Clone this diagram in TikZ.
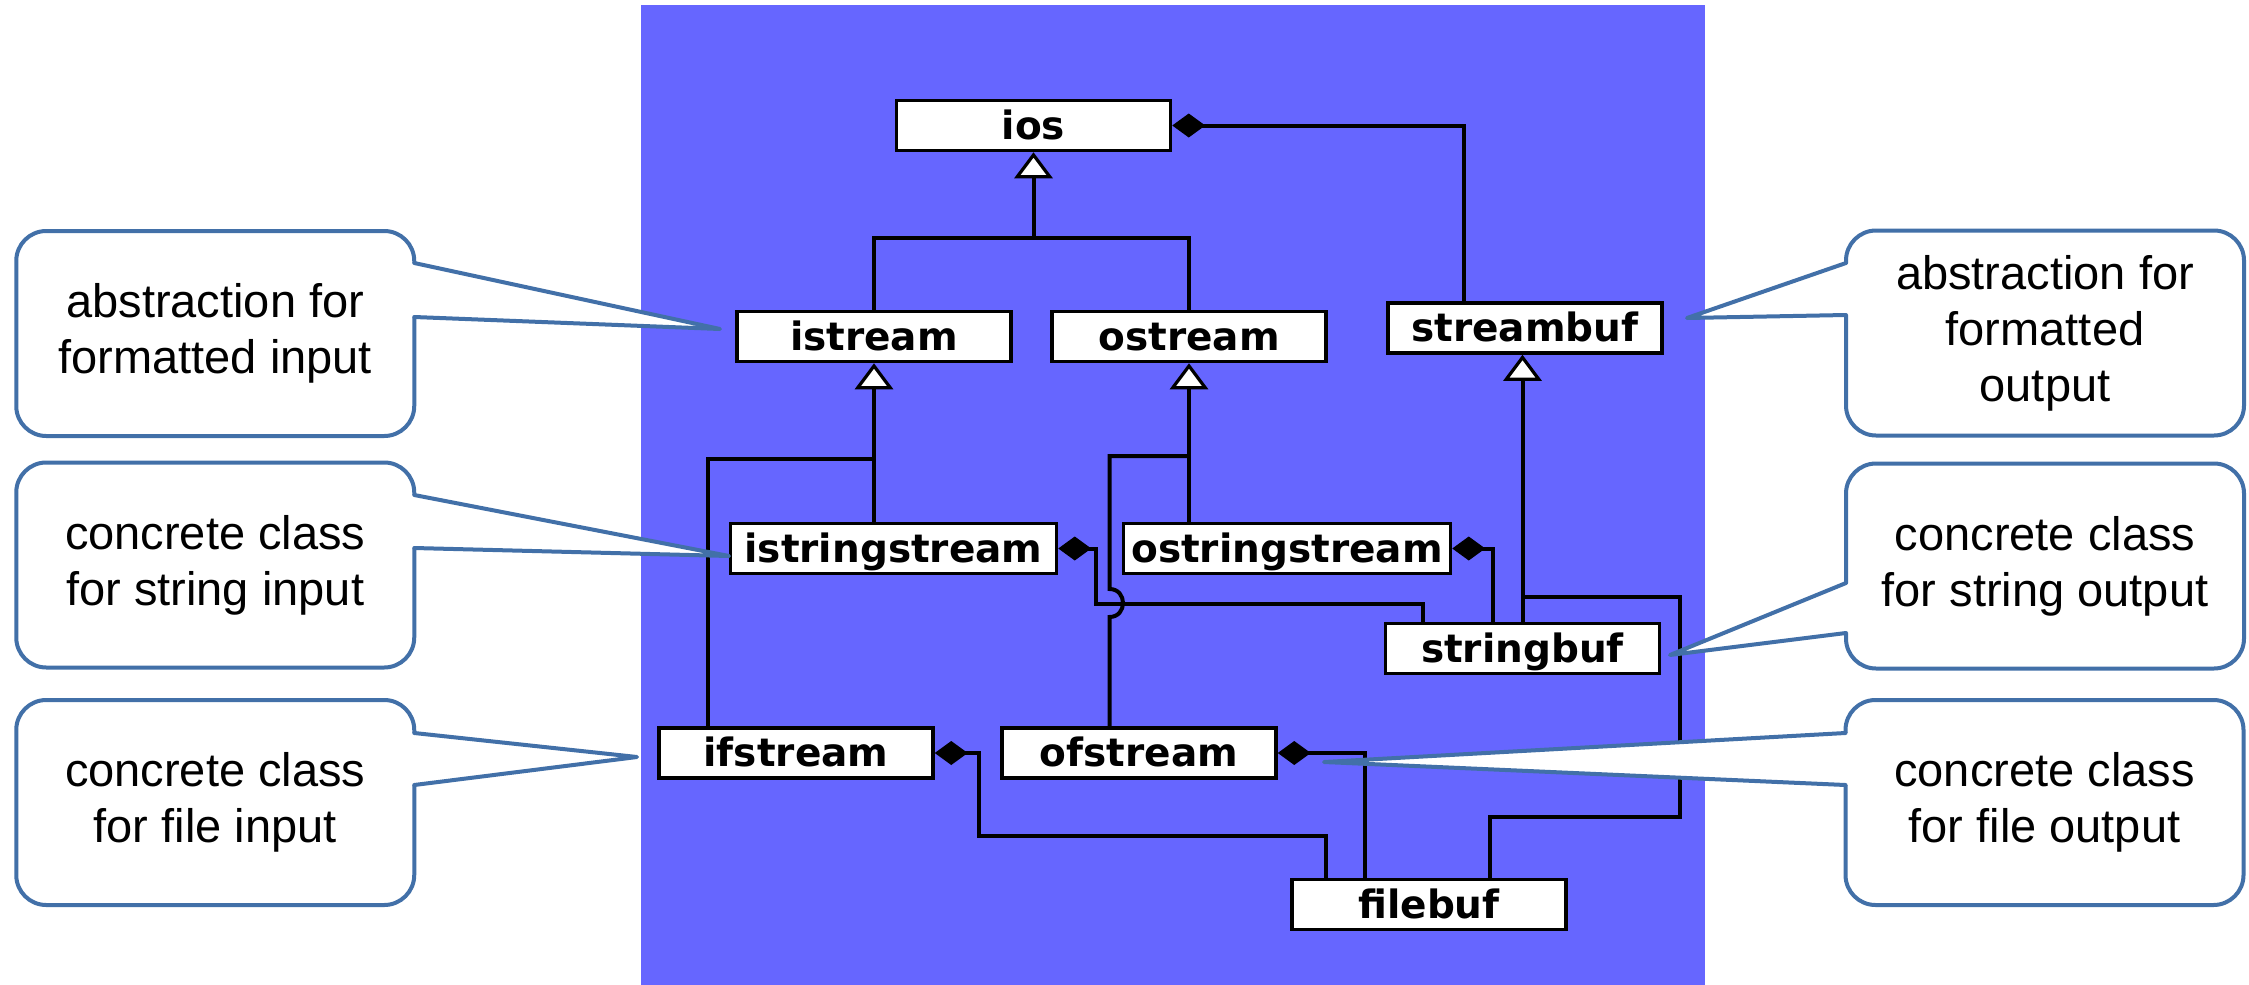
\documentclass[tikz,border=0pt]{standalone}
\usepackage{fontspec}
\setmainfont{Liberation Sans}
\newfontfamily\umlfont{DejaVu Sans}
\usetikzlibrary{arrows.meta}
\definecolor{panel}{RGB}{102,102,255}
\definecolor{callblue}{RGB}{66,112,168}
\begin{document}
\begin{tikzpicture}[x=1pt,y=-1pt,
  uml/.style={draw=black, line width=3.5pt, fill=white, inner sep=0pt,
    minimum height=50pt, minimum width=274pt,
    font=\umlfont\bfseries\fontsize{39}{42}\selectfont,
    text height=30pt, text depth=3pt},
  conn/.style={draw=black, line width=4pt},
  gen/.style={conn, -{Triangle[width=38pt,length=26pt,fill=white,line width=3.2pt]}},
  comp/.style={conn, -{Diamond[width=24pt,length=33pt]}},
  callout/.style={draw=callblue, line width=4pt, fill=white, rounded corners=30pt,
    align=center, inner sep=0pt, minimum width=398pt, minimum height=205pt,
    font=\fontsize{47}{56}\selectfont},
  ptr/.style={draw=callblue, line width=4pt, line join=round, line cap=round}]
\useasboundingbox (0,0) rectangle (2249,985);
\fill[white] (0,0) rectangle (2249,985);
\fill[panel] (641,5) rectangle (1705,985);

% class boxes
\node[uml] (ios) at (1033.5,125.5) {ios};
\node[uml] (istream) at (874,336.5) {istream};
\node[uml] (ostream) at (1189,336.5) {ostream};
\node[uml] (streambuf) at (1525,328) {streambuf};
\node[uml, minimum width=326pt] (istringstream) at (893.5,548.5) {istringstream};
\node[uml, minimum width=327pt] (ostringstream) at (1287,548.5) {ostringstream};
\node[uml] (stringbuf) at (1522.5,648.5) {stringbuf};
\node[uml] (ifstream) at (796,753) {ifstream};
\node[uml] (ofstream) at (1139,753) {ofstream};
\node[uml] (filebuf) at (1429,904.5) {filebuf};

% bend coordinates
\coordinate (g1) at (1033.5,238);
\coordinate (b1) at (708,459);
\coordinate (c1) at (1109.5,456);
\coordinate (a1) at (1464,126);
\coordinate (d1) at (1423,604);
\coordinate (d2) at (1096,604);
\coordinate (e1) at (1493,548.5);
\coordinate (f1) at (1522.5,597);
\coordinate (f2) at (1680,817);
\coordinate (f3) at (1490,817);
\coordinate (h1) at (979,836);
\coordinate (h2) at (1326,836);
\coordinate (k1) at (1365,753);

% generalizations
\draw[conn] (istream.north) |- (g1) -| (ostream.north);
\draw[gen] (g1) -- (ios.south);
\draw[gen] (istream.south |- istringstream.north) -- (istream.south);
\draw[conn] (b1 |- ifstream.north) -- (b1) -- (b1 -| istream.south);
\draw[gen] (ostream.south |- ostringstream.north) -- (ostream.south);
\draw[conn] (c1 -| ostream.south) -- (c1) -- (1109.5,589)
  .. controls (1127.5,589) and (1127.5,617) .. (1109.5,617) -- (c1 |- ofstream.north);
\draw[gen] (stringbuf.north) -- (stringbuf.north |- streambuf.south);
\draw[conn] (f1) -| (f2) -- (f3) -- (f3 |- filebuf.north);

% compositions
\draw[comp] (a1 |- streambuf.north) |- (ios.east);
\draw[comp] (d1 |- stringbuf.north) -- (d1) -- (d2) |- (istringstream.east);
\draw[comp] (e1 |- stringbuf.north) |- (ostringstream.east);
\draw[comp] (h2 |- filebuf.north) -- (h2) -- (h1) |- (ifstream.east);
\draw[comp] (k1 |- filebuf.north) |- (ofstream.east);

% callouts
\node[callout] (n1) at (215.25,333.5) {abstraction for\\formatted input};
\node[callout] (n2) at (215.25,565) {concrete class\\for string input};
\node[callout] (n3) at (215.25,802.5) {concrete class\\for file input};
\node[callout] (n4) at (2045,333) {abstraction for\\formatted\\output};
\node[callout] (n5) at (2045,566) {concrete class\\for string output};
\node[callout] (n6) at (2044.5,802.5) {concrete class\\for file output};

\coordinate (t1) at (720,329);
\coordinate (t2) at (729,556);
\coordinate (t3) at (637,757);
\coordinate (t4) at (1687,318);
\coordinate (t5) at (1670,655);
\coordinate (t6) at (1324,762);

\fill[white] ([xshift=-5pt,yshift=70.5pt]n1.east) -- (t1) -- ([xshift=-5pt,yshift=16.5pt]n1.east) -- cycle;
\draw[ptr] ([xshift=-2pt,yshift=70.5pt]n1.east) -- (t1) -- ([xshift=-2pt,yshift=16.5pt]n1.east);
\fill[white] ([xshift=-5pt,yshift=70pt]n2.east) -- (t2) -- ([xshift=-5pt,yshift=17pt]n2.east) -- cycle;
\draw[ptr] ([xshift=-2pt,yshift=70pt]n2.east) -- (t2) -- ([xshift=-2pt,yshift=17pt]n2.east);
\fill[white] ([xshift=-5pt,yshift=69.5pt]n3.east) -- (t3) -- ([xshift=-5pt,yshift=17.5pt]n3.east) -- cycle;
\draw[ptr] ([xshift=-2pt,yshift=69.5pt]n3.east) -- (t3) -- ([xshift=-2pt,yshift=17.5pt]n3.east);
\fill[white] ([xshift=5pt,yshift=70pt]n4.west) -- (t4) -- ([xshift=5pt,yshift=18pt]n4.west) -- cycle;
\draw[ptr] ([xshift=2pt,yshift=70pt]n4.west) -- (t4) -- ([xshift=2pt,yshift=18pt]n4.west);
\fill[white] ([xshift=5pt,yshift=-17pt]n5.west) -- (t5) -- ([xshift=5pt,yshift=-67pt]n5.west) -- cycle;
\draw[ptr] ([xshift=2pt,yshift=-17pt]n5.west) -- (t5) -- ([xshift=2pt,yshift=-67pt]n5.west);
\fill[white] ([xshift=5pt,yshift=69.5pt]n6.west) -- (t6) -- ([xshift=5pt,yshift=17.5pt]n6.west) -- cycle;
\draw[ptr] ([xshift=2pt,yshift=69.5pt]n6.west) -- (t6) -- ([xshift=2pt,yshift=17.5pt]n6.west);
\end{tikzpicture}
\end{document}
